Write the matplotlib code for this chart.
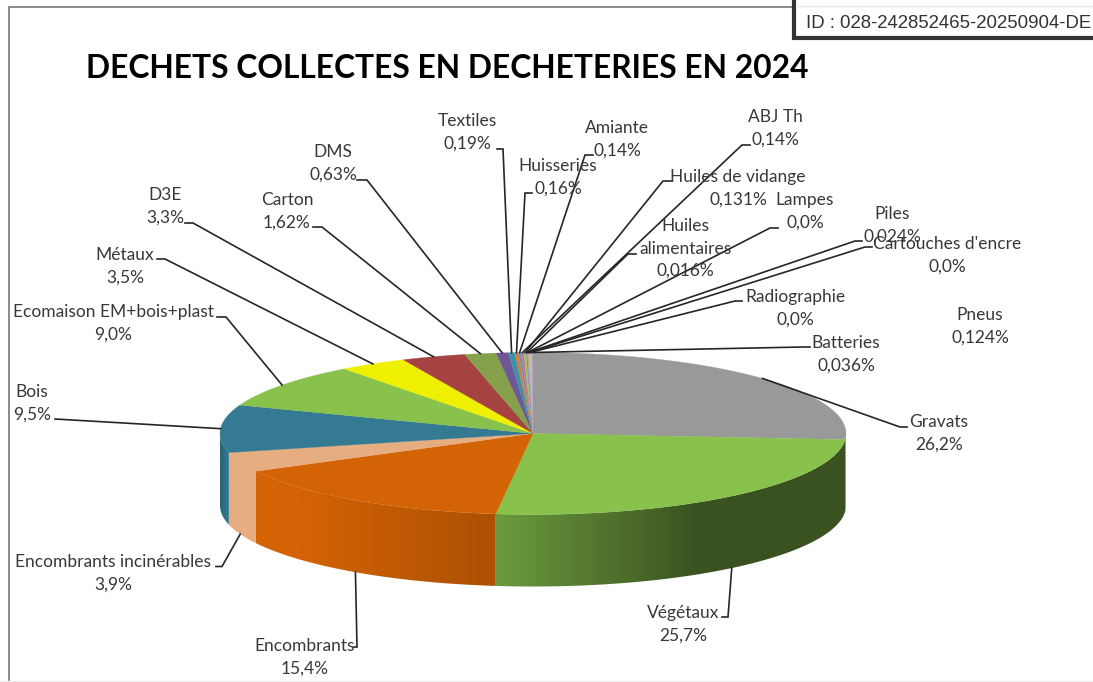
#!/usr/bin/env python3
"""
Dechets collectes en decheteries 2024 - camembert 3D dessine a la main
"""

import matplotlib
matplotlib.use('Agg')
import matplotlib.pyplot as plt
import numpy as np
from matplotlib.colors import to_rgb
from matplotlib.patches import Polygon

# donnees
noms = ['Gravats', 'Végétaux', 'Encombrants', 'Encombrants incinérables', 'Bois',
        'Ecomaison EM+bois+plast', 'Métaux', 'D3E', 'Carton', 'DMS', 'Textiles',
        'Huisseries', 'Amiante', 'ABJ Th', 'Huiles de vidange', 'Huiles\nalimentaires',
        'Lampes', 'Piles', "Cartouches d'encre", 'Radiographie', 'Batteries', 'Pneus']
pourcents = ['26,2%', '25,7%', '15,4%', '3,9%', '9,5%', '9,0%', '3,5%', '3,3%', '1,62%',
             '0,63%', '0,19%', '0,16%', '0,14%', '0,14%', '0,131%', '0,016%', '0,0%',
             '0,024%', '0,0%', '0,0%', '0,036%', '0,124%']
parts = [26.2, 25.7, 15.4, 3.9, 9.5, 9.0, 3.5, 3.3, 1.62, 0.63, 0.32, 0.18, 0.14, 0.14,
         0.13, 0.04, 0.04, 0.04, 0.04, 0.04, 0.04, 0.10]
couleurs = ['#999999', '#88C14B', '#D46305', '#E6AD80', '#337A92', '#88C14B', '#EFEF00',
            '#A54342', '#86A14B', '#6F5694', '#3A93AE', '#D87F32', '#7090C0', '#C07F7D',
            '#A3BD74', '#8D7BAA', '#6AADC4', '#E09A62', '#9DB3D6', '#D6A5A4', '#BFD29C',
            '#B0A4C6']

# mise en page (pixels de l'image)
CX, CY = 533, 433.5
RX, RY = 313, 81
DEPTH = 72
# centre x, y du centre du texte, coude du trait (debut, fin)
label_x = [939, 683, 305, 113, 32, 113, 125, 165, 287, 333, 467, 558, 617, 775, 738, 685,
           805, 892, 947, 795, 846, 980]
label_y = [433.5, 624, 657.5, 573.5, 403.5, 323.5, 266.5, 206.5, 211.5, 163.5, 132.5, 177.5,
           139.5, 128.5, 188.5, 248.5, 211.5, 225, 255.5, 308.5, 354.5, 326.5]
coude_a = [907, 722, 354, 216, 55, 217, 157, 185, 313, 357, 497, 532, 593, 750, 671, 636,
           778, 862, 872, 742, 810, None]
coude_b = [900, 728, 357, 222, 55, 226, 165, 193, 322, 367, 503, 525, 585, 742, 663, 628,
           770, 855, 865, 735, 803, None]
coude_y = [427, 617, 647, 566.5, 419, 317, 259, 223, 227, 180, 149, 193, 155, 145, 181, 254,
           228, 241, 247, 301, 347, None]

# degrade du flanc : x0, couleur0, x1, couleur1
degrades = {1: (496, '#6B9A3C', 700, '#3A5220'),
            2: (300, '#D46305', 496, '#AC5003'),
            3: (229, '#E6AD80', 256, '#E6AD80'),
            4: (221, '#2A677C', 229, '#337A92')}


def rim(a):
    a = np.radians(a)
    return CX + RX * np.sin(a), CY - RY * np.cos(a)


fig = plt.figure(figsize=(10.93, 6.82), dpi=100)
ax = fig.add_axes([0, 0, 1, 1])
plt.rcParams['font.family'] = ['Lato', 'DejaVu Sans']

bornes = np.cumsum([0] + parts) / sum(parts) * 360

# cadre du graphique
ax.plot([8.5, 8.5, 793], [682, 6.5, 6.5], color='#8a8a8a', lw=1.4, zorder=1)
ax.plot([0, 1093], [680.5, 680.5], color='#eeeeee', lw=1, zorder=1)

# flancs (uniquement la moitie avant), degrade en x coupe par le contour de la part
for i in range(len(parts)):
    a0, a1 = max(bornes[i], 90), min(bornes[i + 1], 270)
    if a1 <= a0:
        continue
    ang = np.linspace(a0, a1, 90)
    xs, ys = rim(ang)
    if i in degrades:
        x0, c0, x1, c1 = degrades[i]
    else:
        x0, c0, x1, c1 = 0, couleurs[i], 1, couleurs[i]
    c0, c1 = to_rgb(c0), to_rgb(c1)
    grille = np.arange(np.floor(xs.min()) - 1, np.ceil(xs.max()) + 2)
    img = np.array([[[np.interp(x, [x0, x1], [c0[k], c1[k]]) for k in range(3)] for x in grille]])
    im = ax.imshow(img, extent=[grille[0], grille[-1], 0, 682], aspect='auto',
                   interpolation='bilinear', zorder=2)
    contour = Polygon(np.c_[np.r_[xs, xs[::-1]], np.r_[ys, ys[::-1] + DEPTH]],
                      transform=ax.transData, facecolor='none', edgecolor='none')
    ax.add_patch(contour)
    im.set_clip_path(contour)

# dessus
for i in range(len(parts)):
    ang = np.linspace(bornes[i], bornes[i + 1], 120)
    xs, ys = rim(ang)
    ax.fill(np.r_[CX, xs], np.r_[CY, ys], facecolor=couleurs[i], edgecolor=couleurs[i],
            lw=0.2, zorder=3)

# etiquettes et traits de rappel
for i in range(len(parts)):
    ax.text(label_x[i], label_y[i], noms[i] + '\n' + pourcents[i], ha='center', va='center',
            fontsize=12.5, color='#383838', linespacing=1.5, zorder=6)
    if coude_a[i] is None:
        continue
    mid = (bornes[i] + bornes[i + 1]) / 2
    x, y = rim(mid)
    # les parts de devant s'accrochent au bas du flanc
    if 140 < mid < 260:
        y += DEPTH
    ax.plot([coude_a[i], coude_b[i], x], [coude_y[i], coude_y[i], y], color='#262626',
            lw=1.2, zorder=5, solid_joinstyle='miter')

# titre
ax.text(447.5, 69, 'DECHETS COLLECTES EN DECHETERIES EN 2024', ha='center', va='center',
        fontsize=22.9, fontweight='bold', color='black', zorder=6)

# cartouche ID
ax.fill([794, 1093, 1093, 794], [0, 0, 38, 38], color='white', zorder=7)
ax.plot([794, 794, 1093], [0, 38, 38], color='#333333', lw=3, zorder=8,
        solid_joinstyle='miter')
ax.plot([796, 1093], [6, 6], color='#e6e6e6', lw=1, zorder=8)
ax.text(806, 24, 'ID : 028-242852465-20250904-DE', ha='left', va='center', fontsize=13.4,
        family=['Liberation Sans', 'DejaVu Sans'], color='#333333', zorder=9)

ax.set_xlim(0, 1093)
ax.set_ylim(682, 0)
ax.axis('off')

plt.savefig('out.png', dpi=100)
plt.close()
